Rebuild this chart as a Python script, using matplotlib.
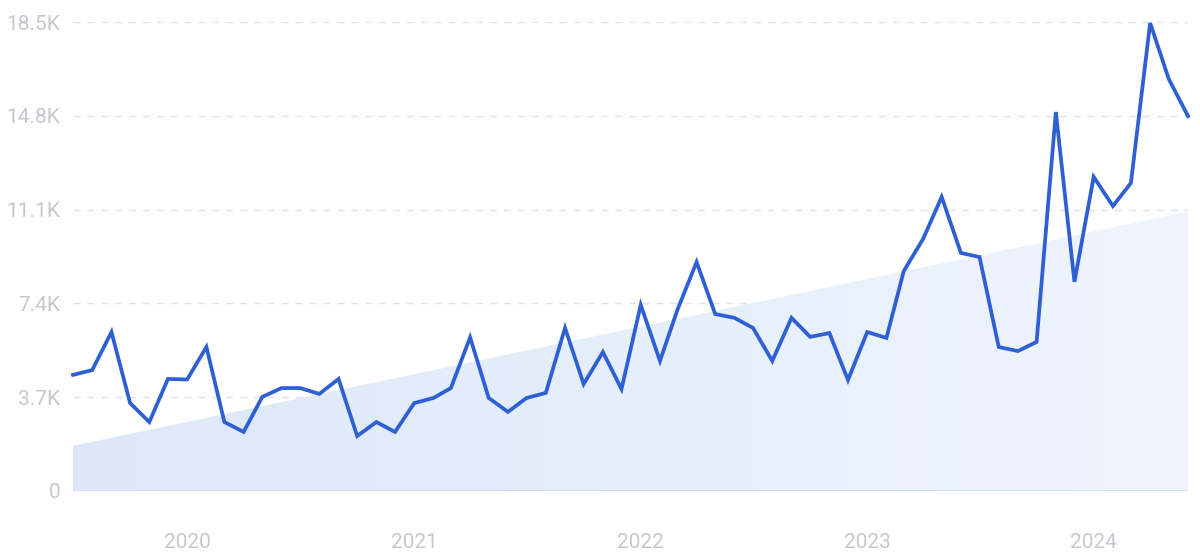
import numpy as np
import pandas as pd
import matplotlib
matplotlib.use("Agg")
import matplotlib.pyplot as plt
import matplotlib.dates as mdates
from matplotlib.patches import Polygon

# ── Data (monthly, Jul 2019 – Jun 2024) ─────────────────────────────
months = pd.date_range("2019-07-01", "2024-06-01", freq="MS")
values = [
    4580, 4770, 6270, 3470, 2720, 4420, 4400, 5680, 2720, 2330,
    3710, 4060, 4060, 3830, 4420, 2170, 2720, 2330, 3470, 3670,
    4060, 6060, 3670, 3120, 3670, 3870, 6430, 4220, 5480, 4020,
    7340, 5130, 7140, 9030, 6980, 6830, 6430, 5130, 6830, 6080,
    6230, 4380, 6270, 6040, 8680, 9940, 11600, 9390, 9230, 5680,
    5520, 5880, 14950, 8250, 12390, 11240, 12150, 18460, 16250, 14790,
]
trend_ends = [1780, 11020]          # linear trend, first and last month
yticks = [0, 3700, 7400, 11100, 14800, 18500]
ytick_labels = ["0", "3.7K", "7.4K", "11.1K", "14.8K", "18.5K"]
years = [2020, 2021, 2022, 2023, 2024]

LINE = "#2F5FD5"
GRID = "#DCE3EE"
TICK = "#C6C8CE"

plt.rcParams["font.family"] = ["Roboto", "DejaVu Sans"]

fig = plt.figure(figsize=(12, 5.55), dpi=100)
fig.patch.set_facecolor("white")
ax = fig.add_axes([73 / 1200, 1 - 491 / 555, (1188 - 73) / 1200, (491 - 22) / 555])

x = mdates.date2num(months.to_pydatetime())
ax.set_xlim(x[0], x[-1])
ax.set_ylim(0, 18500)

# ── Trend area with soft horizontal gradient ─────────────────────────
poly = Polygon([(x[0], 0), (x[0], trend_ends[0]), (x[-1], trend_ends[1]), (x[-1], 0)],
               closed=True, facecolor="none", edgecolor="none")
ax.add_patch(poly)
grad = np.linspace(0, 1, 256).reshape(1, -1)
cmap = matplotlib.colors.LinearSegmentedColormap.from_list("tr", ["#DCE8F9", "#EFF5FD"])
im = ax.imshow(grad, extent=[x[0], x[-1], 0, 18500], aspect="auto", cmap=cmap,
               origin="lower", zorder=1, interpolation="bicubic")
im.set_clip_path(poly)

# ── Grid ─────────────────────────────────────────────────────────────
for yv in yticks[1:]:
    ax.axhline(yv, color=GRID, lw=1.0, ls=(0, (5, 5)), zorder=0.5)
ax.axhline(0, color="#CFDDF2", lw=1.2, zorder=2)

# ── Main line ────────────────────────────────────────────────────────
ax.plot(x, values, color=LINE, lw=2.7, solid_joinstyle="miter", zorder=3, clip_on=False)

# ── Axes styling ─────────────────────────────────────────────────────
for s in ax.spines.values():
    s.set_visible(False)
ax.set_facecolor("none")
ax.set_yticks(yticks)
ax.set_yticklabels(ytick_labels)
ax.set_xticks([mdates.date2num(pd.Timestamp(f"{y}-01-01")) for y in years])
ax.set_xticklabels([str(y) for y in years])
ax.tick_params(axis="both", length=0, labelsize=15, labelcolor=TICK)
ax.tick_params(axis="y", pad=9)
ax.tick_params(axis="x", pad=30)

fig.savefig("out.png", dpi=100, facecolor="white")
